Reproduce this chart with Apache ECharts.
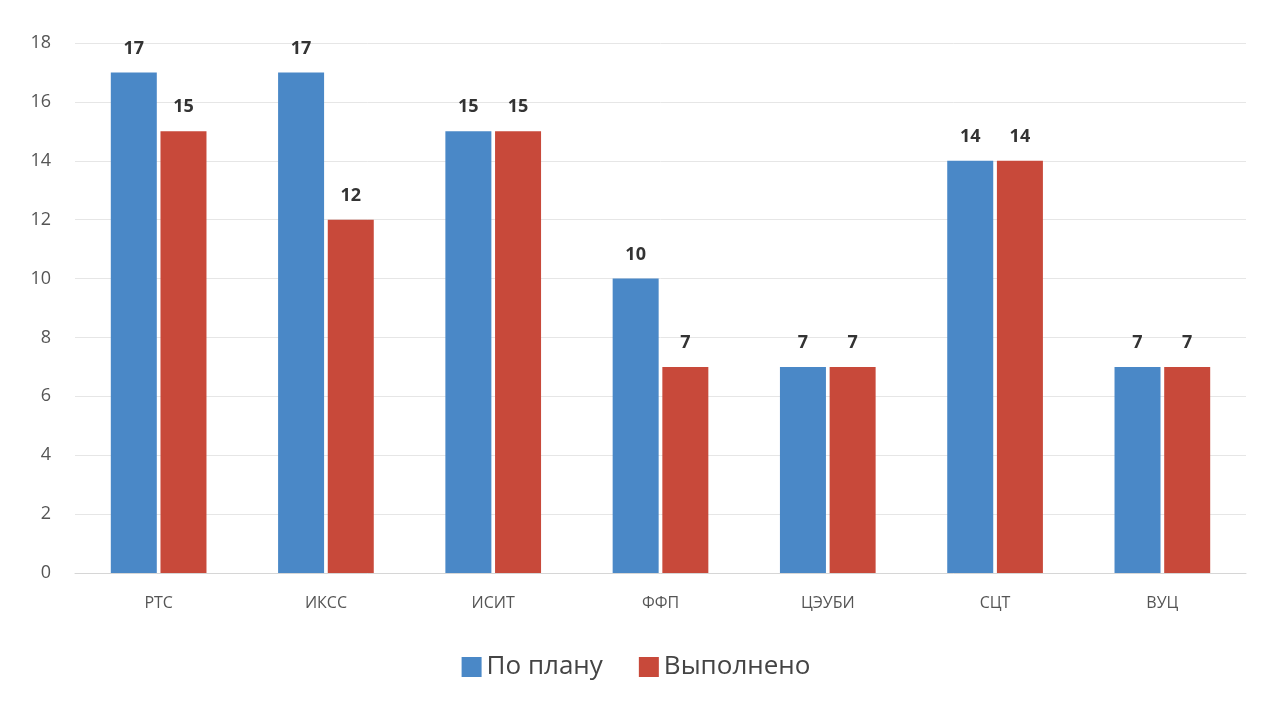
<!DOCTYPE html>
<html><head><meta charset="utf-8">
<script src="https://cdn.jsdelivr.net/npm/echarts@6/dist/echarts.min.js"></script>
<style>html,body{margin:0;padding:0;background:#fff}#c{width:1272px;height:711px}</style>
</head><body><div id="c"></div>
<script>
const categories = ['РТС','ИКСС','ИСИТ','ФФП','ЦЭУБИ','СЦТ','ВУЦ'];
const planValues = [17,17,15,10,7,14,7];
const doneValues = [15,12,15,7,7,14,7];
const seriesNames = ['По плану','Выполнено'];
const chart = echarts.init(document.getElementById('c'));
const labelStyle = {show:true, position:'top', distance:15, fontFamily:'Open Sans', fontWeight:'bold', fontSize:18, color:'#333'};
chart.setOption({
  animation:false,
  backgroundColor:'#fff',
  grid:{left:75, right:26, top:43, bottom:138},
  legend:{bottom:26, left:'center', itemWidth:20, itemHeight:20, itemGap:36,
    textStyle:{fontFamily:'Open Sans', fontSize:26, color:'#444'}, icon:'rect',
    data:seriesNames},
  xAxis:{type:'category', data:categories,
    axisLine:{lineStyle:{color:'#d6d6d6'}}, axisTick:{show:false},
    axisLabel:{fontFamily:'Open Sans', fontSize:16, color:'#555', margin:22}},
  yAxis:{type:'value', min:0, max:18, interval:2,
    axisLine:{show:false}, axisTick:{show:false},
    axisLabel:{fontFamily:'Open Sans', fontSize:18, color:'#555', margin:24},
    splitLine:{lineStyle:{color:'#e6e6e6'}}},
  series:[
    {name:seriesNames[0], type:'bar', data:planValues, barWidth:46, barGap:'8%',
     itemStyle:{color:'#4a88c7'}, label:labelStyle},
    {name:seriesNames[1], type:'bar', data:doneValues, barWidth:46,
     itemStyle:{color:'#c8493a'}, label:labelStyle}
  ]
});
</script></body></html>
